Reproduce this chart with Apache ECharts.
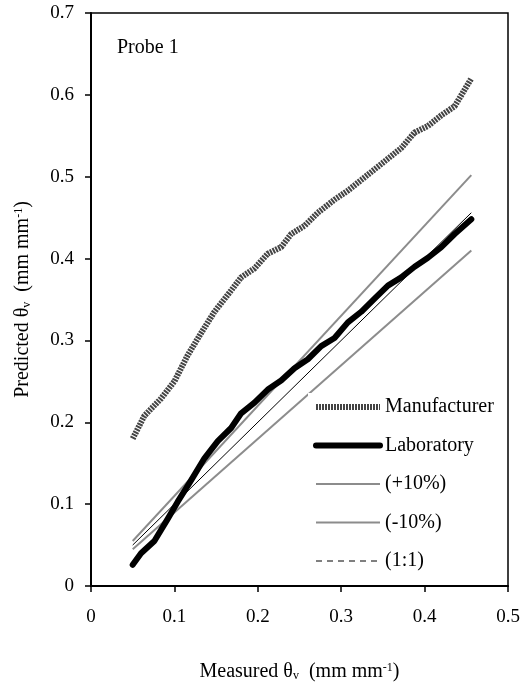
<!DOCTYPE html>
<html>
<head>
<meta charset="utf-8">
<script src="https://cdn.jsdelivr.net/npm/echarts@6/dist/echarts.min.js"></script>
<style>
  html, body { margin: 0; padding: 0; background: #fff; }
  #main { width: 525px; height: 687px; }
</style>
</head>
<body>
<div id="main"></div>
<script>
// values
var manuX = [0.05, 0.064, 0.084, 0.1, 0.116, 0.132, 0.148, 0.168, 0.18, 0.196, 0.212, 0.228, 0.24, 0.256, 0.272, 0.292, 0.308, 0.324, 0.34, 0.356, 0.372, 0.388, 0.404, 0.42, 0.436, 0.456]
var manuY = [0.18, 0.208, 0.229, 0.25, 0.282, 0.309, 0.335, 0.361, 0.377, 0.388, 0.406, 0.414, 0.43, 0.44, 0.456, 0.472, 0.483, 0.496, 0.509, 0.522, 0.535, 0.554, 0.562, 0.575, 0.586, 0.62]
var labX = [0.05, 0.06, 0.076, 0.092, 0.104, 0.12, 0.136, 0.152, 0.168, 0.18, 0.196, 0.212, 0.228, 0.244, 0.26, 0.276, 0.292, 0.308, 0.324, 0.34, 0.356, 0.372, 0.388, 0.404, 0.42, 0.436, 0.456]
var labY = [0.026, 0.04, 0.055, 0.082, 0.103, 0.129, 0.156, 0.177, 0.193, 0.211, 0.224, 0.24, 0.251, 0.266, 0.277, 0.293, 0.303, 0.322, 0.335, 0.351, 0.367, 0.377, 0.39, 0.401, 0.414, 0.43, 0.448]
var refX = [0.05, 0.456]
var plus10Y = [0.055, 0.502]
var minus10Y = [0.045, 0.41]
var oneToOneY = [0.05, 0.456]

function pairs(xs, ys) {
    var out = []
    for (var i = 0; i < xs.length; i++) out.push([xs[i], ys[i]])
    return out
}

var font = 'Liberation Serif'
var rich = {
    sub: { fontFamily: font, fontSize: 12, verticalAlign: 'bottom', padding: [8, 0, 0, 0] },
    sup: { fontFamily: font, fontSize: 12, verticalAlign: 'top', padding: [0, 0, 8, 0] }
}

var manuStyle = { color: '#444', width: 6, type: [2, 1] }
var labStyle = { color: '#000', width: 6, cap: 'round', join: 'round' }
var bandStyle = { color: '#8c8c8c', width: 2 }

var myChart = echarts.init(document.getElementById('main'))
var option = {
    animation: false,
    backgroundColor: '#fff',
    textStyle: { fontFamily: font, color: '#000' },
    title: {
        text: 'Probe 1',
        left: 112, top: 33,
        textStyle: { fontFamily: font, fontSize: 20, fontWeight: 'normal', color: '#000' }
    },
    grid: {
        left: 91, right: 17, top: 13, bottom: 94,
        show: true, borderColor: '#000', borderWidth: 1.5
    },
    legend: {
        orient: 'vertical',
        left: 308, top: 393,
        padding: [4, 4, 4, 5],
        backgroundColor: '#fff',
        itemWidth: 64, itemHeight: 19, itemGap: 18.5,
        itemStyle: { opacity: 0 },
        textStyle: { fontFamily: font, fontSize: 20, color: '#000' },
        data: [
            { name: 'Manufacturer', lineStyle: manuStyle },
            { name: 'Laboratory', lineStyle: labStyle },
            { name: '(+10%)', lineStyle: bandStyle },
            { name: '(-10%)', lineStyle: bandStyle },
            { name: '(1:1)', lineStyle: { type: [6, 5], width: 1, color: '#000' } }
        ]
    },
    xAxis: {
        type: 'value', min: 0, max: 0.5, interval: 0.1,
        splitLine: { show: false },
        axisLine: { lineStyle: { color: '#000', width: 2 } },
        axisTick: { show: true, length: 6, lineStyle: { color: '#000', width: 1.5 } },
        axisLabel: { fontFamily: font, fontSize: 19, color: '#000', margin: 22 },
        name: 'Measured θ{sub|v}  (mm mm{sup|-1})',
        nameLocation: 'middle', nameGap: 76,
        nameTextStyle: { fontFamily: font, fontSize: 20, color: '#000', rich: rich }
    },
    yAxis: {
        type: 'value', min: 0, max: 0.7, interval: 0.1,
        splitLine: { show: false },
        axisLine: { lineStyle: { color: '#000', width: 2 } },
        axisTick: { show: true, length: 6, lineStyle: { color: '#000', width: 1.5 } },
        axisLabel: { fontFamily: font, fontSize: 19, color: '#000', margin: 17 },
        name: 'Predicted θ{sub|v}  (mm mm{sup|-1})',
        nameLocation: 'middle', nameGap: 58,
        nameTextStyle: { fontFamily: font, fontSize: 20, color: '#000', rich: rich }
    },
    series: [
        {
            name: '(+10%)', type: 'line', symbol: 'none',
            data: pairs(refX, plus10Y),
            lineStyle: bandStyle
        },
        {
            name: '(-10%)', type: 'line', symbol: 'none',
            data: pairs(refX, minus10Y),
            lineStyle: bandStyle
        },
        {
            name: '(1:1)', type: 'line', symbol: 'none',
            data: pairs(refX, oneToOneY),
            lineStyle: { color: '#000', width: 1 }
        },
        {
            name: 'Manufacturer', type: 'line', symbol: 'none',
            data: pairs(manuX, manuY),
            lineStyle: manuStyle
        },
        {
            name: 'Laboratory', type: 'line', symbol: 'none',
            data: pairs(labX, labY),
            lineStyle: labStyle
        }
    ]
}
myChart.setOption(option)
</script>
</body>
</html>
